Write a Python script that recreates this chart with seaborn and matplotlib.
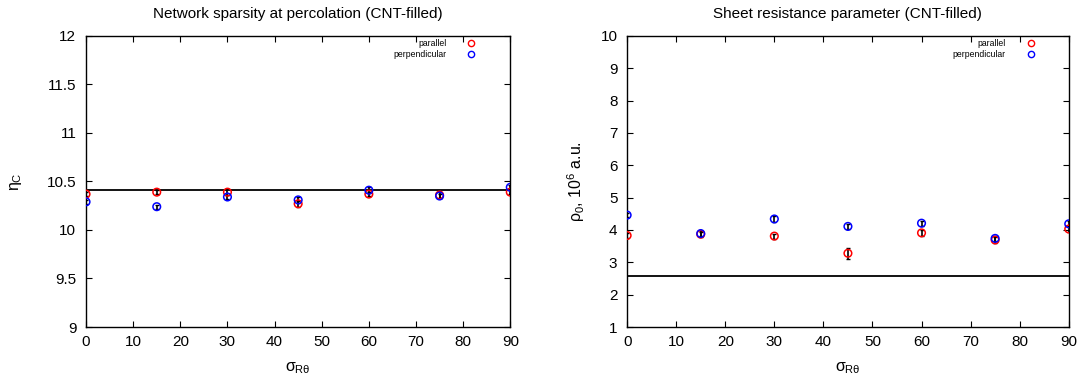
import numpy as np
import pandas as pd
import matplotlib
matplotlib.use("Agg")
import matplotlib.pyplot as plt
import seaborn as sns

sigma = [0, 15, 30, 45, 60, 75, 90]

eta_par = [10.37, 10.39, 10.39, 10.27, 10.37, 10.36, 10.39]
eta_perp = [10.29, 10.24, 10.34, 10.31, 10.41, 10.35, 10.44]
eta_par_err = [0.02, 0.02, 0.03, 0.03, 0.02, 0.03, 0.02]
eta_perp_err = [0.02, 0.02, 0.02, 0.03, 0.03, 0.02, 0.02]
eta_ref = 10.41

rho_par = [3.83, 3.87, 3.81, 3.28, 3.91, 3.69, 4.03]
rho_perp = [4.46, 3.89, 4.34, 4.11, 4.21, 3.74, 4.19]
rho_par_err = [0.08, 0.08, 0.08, 0.17, 0.10, 0.08, 0.08]
rho_perp_err = [0.07, 0.08, 0.08, 0.08, 0.08, 0.08, 0.08]
rho_ref = 2.58

series_names = ["parallel", "perpendicular"]
palette = {"parallel": "#ff0000", "perpendicular": "#0000ff"}

sns.set_style("ticks")
plt.rcParams["font.family"] = ["Liberation Sans", "DejaVu Sans"]
plt.rcParams["mathtext.fontset"] = "custom"
plt.rcParams["mathtext.rm"] = "Liberation Sans"
plt.rcParams["mathtext.it"] = "Liberation Sans"
for k in ["text.color", "axes.labelcolor", "xtick.color", "ytick.color",
          "axes.edgecolor", "axes.titlecolor"]:
    plt.rcParams[k] = "black"

fig = plt.figure(figsize=(10.85, 3.81), dpi=100)
ax1 = fig.add_axes([0.0793, 0.1417, 0.391, 0.764])
ax2 = fig.add_axes([0.578, 0.1417, 0.407, 0.764])


def panel(ax, par, perp, par_err, perp_err, ref, ylim, yticks, title, ylabel,
          ylabelpad, leg_x):
    df = pd.DataFrame({
        "sigma": sigma * 2,
        "value": par + perp,
        "err": par_err + perp_err,
        "series": [series_names[0]] * len(sigma) + [series_names[1]] * len(sigma),
    })
    ax.axhline(ref, color="black", lw=1.3, zorder=1)
    for _, sub in df.groupby("series", sort=False):
        ax.errorbar(sub["sigma"], sub["value"], yerr=sub["err"], fmt="none",
                    ecolor="black", elinewidth=1.2, capsize=1.5, zorder=2)
    sns.scatterplot(data=df, x="sigma", y="value", hue="series", palette=palette,
                    hue_order=series_names, ax=ax, marker="o", s=30,
                    linewidth=1.1, zorder=3, legend=False)
    for coll in ax.collections:
        fc = coll.get_facecolors()
        if len(fc):
            coll.set_edgecolors(fc)
            coll.set_facecolors("none")
    ax.set_xlim(0, 90)
    ax.set_ylim(*ylim)
    ax.set_xticks(range(0, 91, 10))
    ax.set_yticks(yticks)
    ax.set_yticklabels([f"{v:g}" for v in yticks])
    ax.tick_params(axis="x", direction="in", top=True, labelsize=11, length=4,
                   width=0.8, pad=6)
    ax.tick_params(axis="y", direction="in", right=True, labelsize=11, length=4,
                   width=0.8, pad=7)
    for sp in ax.spines.values():
        sp.set_linewidth(1.0)
        sp.set_visible(True)
    ax.set_title(title, fontsize=11, pad=13)
    ax.set_xlabel(r"$\sigma_{\mathrm{R}\theta}$", fontsize=11.5, labelpad=8)
    ax.set_ylabel(ylabel, fontsize=11.5, labelpad=ylabelpad)
    handles = [plt.Line2D([], [], ls="none", marker="o", markersize=4.5, mfc="none",
                          mec=palette[n], mew=1.0) for n in series_names]
    leg = ax.legend(handles, series_names, loc="upper right", markerfirst=False,
                    frameon=False, fontsize=6.2, handletextpad=2.4, labelspacing=0.3,
                    borderaxespad=0.0, borderpad=0.2, handlelength=1.0,
                    bbox_to_anchor=(leg_x, 0.997))
    for t in leg.get_texts():
        t.set_ha("right")


panel(ax1, eta_par, eta_perp, eta_par_err, eta_perp_err, eta_ref, (9, 12),
      [9, 9.5, 10, 10.5, 11, 11.5, 12],
      "Network sparsity at percolation (CNT-filled)", r"$\eta_{\mathrm{C}}$", 16, 0.922)
panel(ax2, rho_par, rho_perp, rho_par_err, rho_perp_err, rho_ref, (1, 10),
      list(range(1, 11)),
      "Sheet resistance parameter (CNT-filled)", r"$\rho_0$, 10$^6$ a.u.", 10, 0.928)

fig.savefig("out.png", dpi=100)
